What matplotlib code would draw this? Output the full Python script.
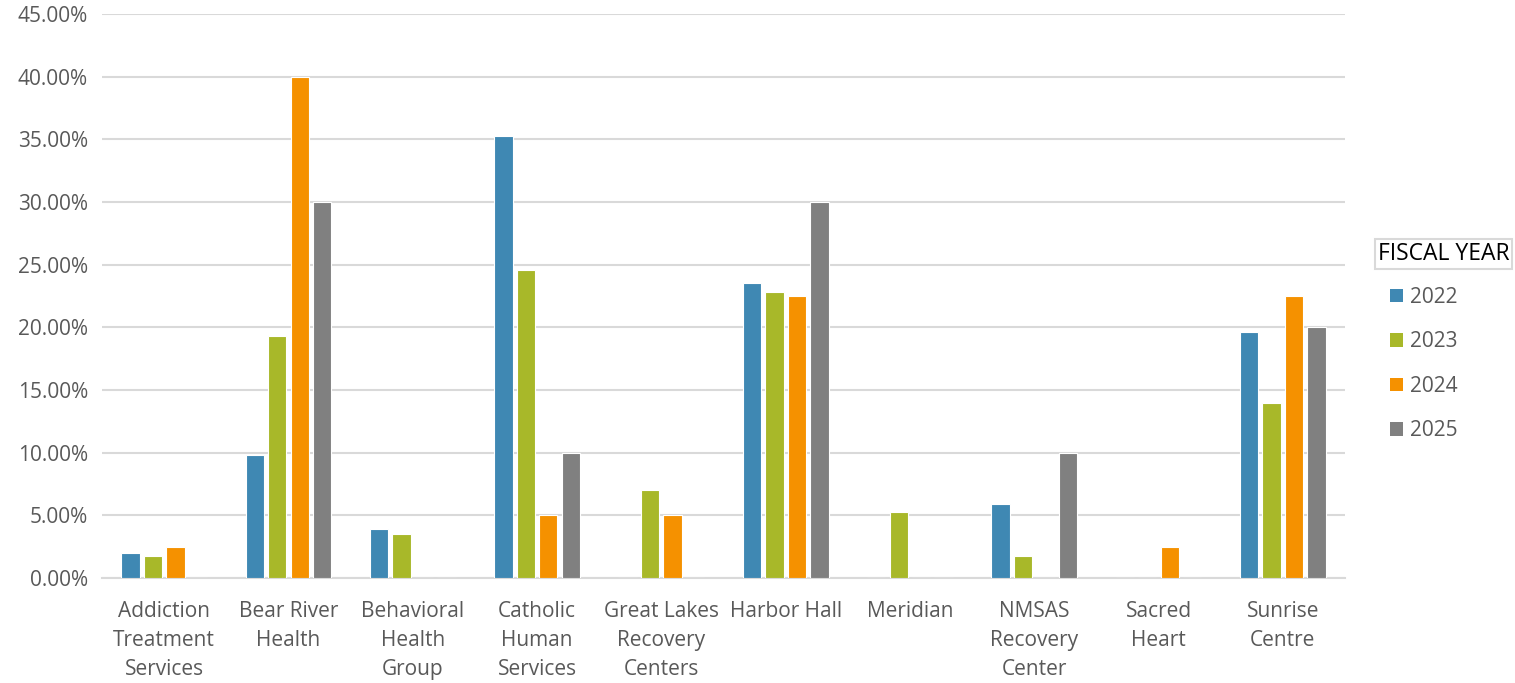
import matplotlib
matplotlib.use("Agg")

import numpy as np
import matplotlib.pyplot as plt
from matplotlib.patches import Patch
from matplotlib.ticker import FuncFormatter

# ------------------ DATA ------------------

categories = [
    "Addiction\nTreatment\nServices",
    "Bear River\nHealth",
    "Behavioral\nHealth\nGroup",
    "Catholic\nHuman\nServices",
    "Great Lakes\nRecovery\nCenters",
    "Harbor Hall",
    "Meridian",
    "NMSAS\nRecovery\nCenter",
    "Sacred\nHeart",
    "Sunrise\nCentre",
]
years = ["2022", "2023", "2024", "2025"]

fy2022 = [2.0, 9.8, 3.9, 35.3, 0, 23.5, 0, 5.9, 0, 19.6]
fy2023 = [1.75, 19.3, 3.5, 24.6, 7.0, 22.8, 5.26, 1.75, 0, 14.0]
fy2024 = [2.5, 40.0, 0, 5.0, 5.0, 22.5, 0, 0, 2.5, 22.5]
fy2025 = [0, 30.0, 0, 10.0, 0, 30.0, 0, 10.0, 0, 20.0]

series = [fy2022, fy2023, fy2024, fy2025]
colors = ["#3f88b3", "#a8b829", "#f59100", "#808080"]

TEXT = "#595959"
GRID = "#d9d9d9"
FONT = "Open Sans"

# ------------------ CHART ------------------

fig = plt.figure(figsize=(15.15, 6.83), dpi=100)
ax = fig.add_axes([102 / 1515, 1 - 578 / 683, (1345 - 102) / 1515, (578 - 14) / 683])

x = np.arange(len(categories))
slot = 0.181
width = 0.148

for i, vals in enumerate(series):
    offs = (i - 1.5) * slot
    ax.bar(x + offs, vals, width=width, color=colors[i],
           edgecolor="white", linewidth=0.8, zorder=3)

ax.set_xlim(-0.5, len(categories) - 0.5)
ax.set_ylim(0, 45)
ax.set_yticks(np.arange(0, 46, 5))
ax.yaxis.set_major_formatter(FuncFormatter(lambda v, p: f"{v:.2f}%"))
ax.grid(axis="y", color=GRID, linewidth=1.5, zorder=0)
ax.set_axisbelow(True)

for s in ["top", "right", "left"]:
    ax.spines[s].set_visible(False)
ax.spines["bottom"].set_color(GRID)
ax.spines["bottom"].set_linewidth(1.5)

ax.set_xticks(x)
ax.set_xticklabels(categories, fontsize=15, color=TEXT, family=FONT,
                   linespacing=1.5)
ax.tick_params(axis="x", length=0, pad=16.5)
ax.tick_params(axis="y", length=0, pad=10, labelsize=15, labelcolor=TEXT)
for lbl in ax.get_yticklabels():
    lbl.set_family(FONT)

# ------------------ LEGEND ------------------

fig.text(1378 / 1515, 1 - 254 / 683, "FISCAL YEAR", fontsize=16.5,
         family=FONT, color="black", va="center", ha="left",
         bbox=dict(facecolor="white", edgecolor=GRID, linewidth=1.5,
                   boxstyle="square,pad=0.12"))

handles = [Patch(facecolor=c, edgecolor="none") for c in colors]
leg = fig.legend(handles, years, loc="upper left",
                 bbox_to_anchor=(1371 / 1515, 1 - 268 / 683),
                 frameon=False, prop={"family": FONT, "size": 15},
                 labelcolor=TEXT, handlelength=0.63, handleheight=0.63,
                 handletextpad=0.35, labelspacing=1.13)

plt.savefig("out.png", dpi=100)
plt.close()
